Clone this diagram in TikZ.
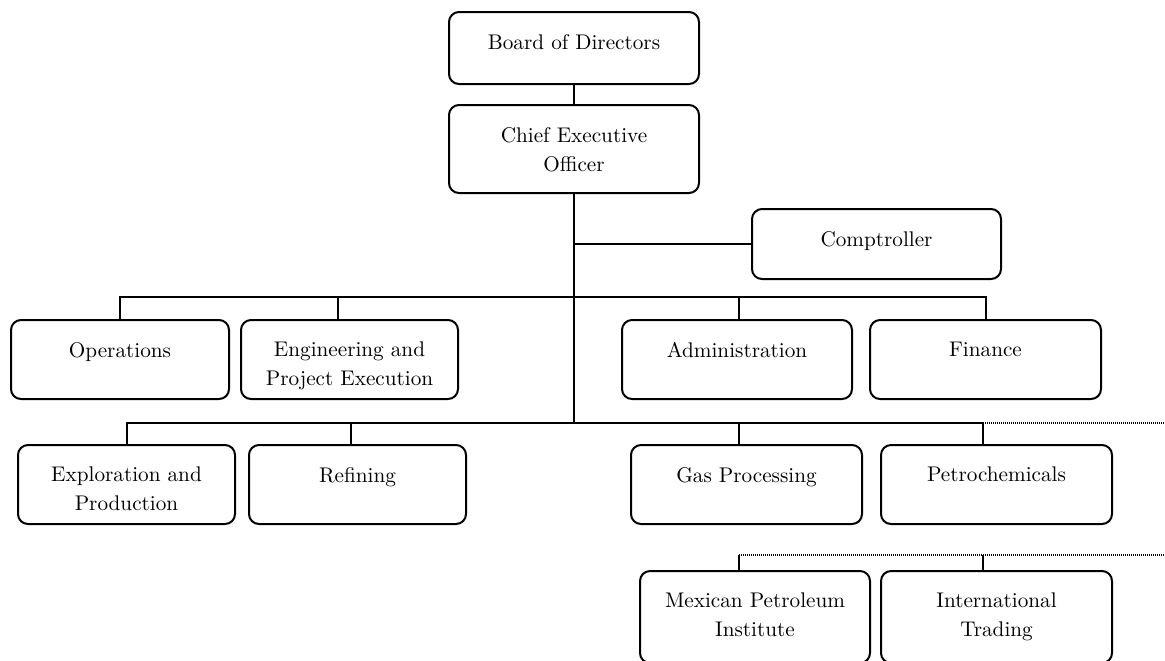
\documentclass[tikz,border=0pt]{standalone}
\usepackage{tikz}

\begin{document}
\begin{tikzpicture}[x=0.5pt,y=-0.5pt,font=\fontsize{10.6}{14.5}\selectfont]

		% styles
		\tikzstyle{unit}=[draw,line width=1pt,rounded corners=5pt,anchor=north west,inner sep=0pt];
		\tikzstyle{unittext}=[anchor=north,yshift=-8pt,align=center];
		\tikzstyle{link}=[line width=1pt];
		\tikzstyle{dotlink}=[line width=0.6pt,dash pattern=on 0.5pt off 0.5pt];

		% page size (the lowest boxes run off the bottom edge)
		\useasboundingbox (0,0) rectangle (1165,660);
		\clip (0,0) rectangle (1165,660);

		% rows of the bus lines and columns of the drops
		\coordinate (bus1) at (0,297);
		\coordinate (bus2) at (0,423);
		\coordinate (bus3) at (0,555);
		\coordinate (colE) at (338,0);
		\coordinate (colR) at (351,0);
		\coordinate (colA) at (739,0);
		\coordinate (colB) at (983,0);
		\coordinate (edge) at (1165,0);

		% top of the chart
		\node[unit,minimum width=125pt,minimum height=36pt,label={[unittext]north:Board of Directors}] (board) at (448,11) {};
		\node[unit,minimum width=125pt,minimum height=44pt,label={[unittext]north:Chief Executive\\Officer}] (ceo) at (448,104) {};
		\node[unit,minimum width=124.5pt,minimum height=35pt,label={[unittext]north:Comptroller}] (comp) at (751,208) {};

		% first row of units
		\node[unit,minimum width=109pt,minimum height=39.5pt,label={[unittext]north:Operations}] (ops) at (10,319) {};
		\node[unit,minimum width=108.5pt,minimum height=39.5pt,label={[unittext]north:Engineering and\\Project Execution}] (eng) at (240,319) {};
		\node[unit,minimum width=115pt,minimum height=39.5pt,label={[unittext]north:Administration}] (adm) at (621,319) {};
		\node[unit,minimum width=115.5pt,minimum height=39.5pt,label={[unittext]north:Finance}] (fin) at (869,319) {};

		% second row of units
		\node[unit,minimum width=108.5pt,minimum height=39.5pt,label={[unittext]north:Exploration and\\Production}] (expl) at (17,444) {};
		\node[unit,minimum width=108.5pt,minimum height=39.5pt,label={[unittext]north:Refining}] (ref) at (248,444) {};
		\node[unit,minimum width=115.5pt,minimum height=39.5pt,label={[unittext]north:Gas Processing}] (gas) at (630,444) {};
		\node[unit,minimum width=115.5pt,minimum height=39.5pt,label={[unittext]north:Petrochemicals}] (petro) at (880,444) {};

		% third row of units
		\node[unit,minimum width=115pt,minimum height=46pt,label={[unittext]north:Mexican Petroleum\\Institute}] (mex) at (639,570) {};
		\node[unit,minimum width=115.5pt,minimum height=46pt,label={[unittext]north:International\\Trading}] (intl) at (880,570) {};

		% trunk
		\draw[link] (board.south) -- (ceo.north);
		\draw[link] (ceo.south) -- (ceo.south |- bus2);
		\draw[link] (ceo.south |- comp.west) -- (comp.west);

		% first bus
		\draw[link] (ops.north) |- (bus1 -| fin.north) -- (fin.north);
		\draw[link] (eng.north -| colE) -- (colE |- bus1);
		\draw[link] (adm.north -| colA) -- (colA |- bus1);

		% second bus
		\draw[link] (expl.north) |- (bus2 -| colB) -- (petro.north -| colB);
		\draw[link] (ref.north -| colR) -- (colR |- bus2);
		\draw[link] (gas.north -| colA) -- (colA |- bus2);
		\draw[dotlink] (bus2 -| colB) -- (bus2 -| edge);

		% third bus
		\draw[dotlink] (bus3 -| colA) -- (bus3 -| edge);
		\draw[link] (colA |- bus3) -- (mex.north -| colA);
		\draw[link] (colB |- bus3) -- (intl.north -| colB);

	\end{tikzpicture}
\end{document}
